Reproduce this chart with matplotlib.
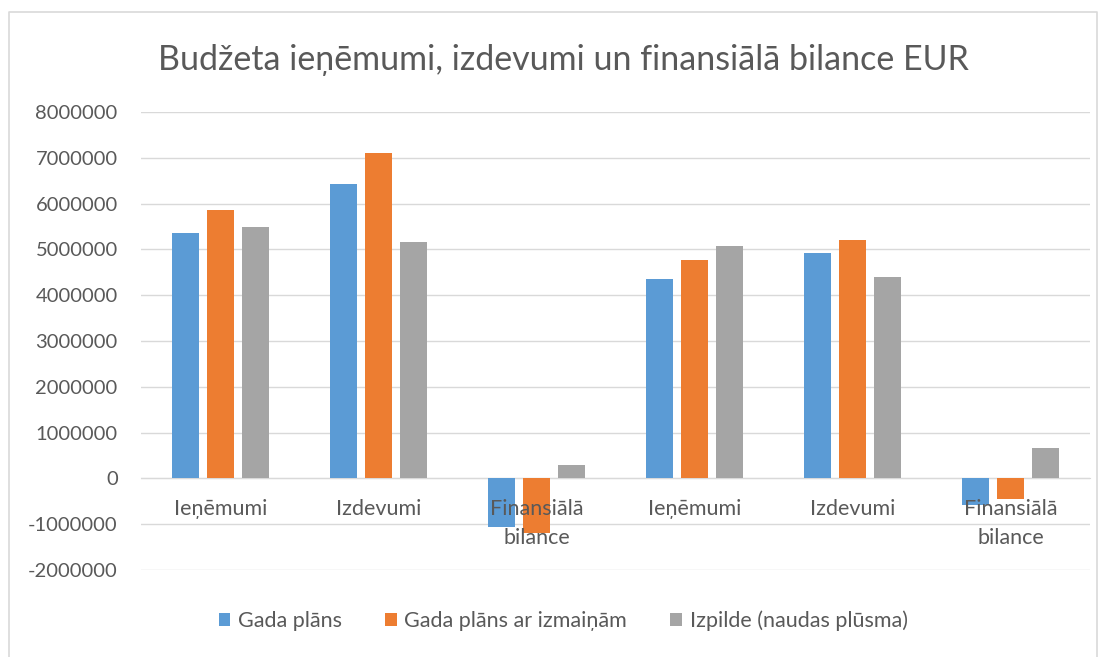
import numpy as np
import matplotlib
matplotlib.use('Agg')
import matplotlib.pyplot as plt
from matplotlib.lines import Line2D

categories = ["Ieņēmumi", "Izdevumi", "Finansiālā\nbilance",
              "Ieņēmumi", "Izdevumi", "Finansiālā\nbilance"]
series_names = ["Gada plāns", "Gada plāns ar izmaiņām", "Izpilde (naudas plūsma)"]
gada_plans = [5360000, 6430000, -1070000, 4350000, 4930000, -570000]
gada_plans_izm = [5870000, 7100000, -1200000, 4760000, 5200000, -460000]
izpilde = [5480000, 5170000, 300000, 5070000, 4390000, 660000]

colors = ["#5B9BD5", "#ED7D31", "#A5A5A5"]
text_color = "#595959"
grid_color = "#D9D9D9"

plt.rcParams['font.family'] = ['Lato', 'DejaVu Sans']

fig = plt.figure(figsize=(11.04, 6.57), dpi=100)
ax = fig.add_axes([0.128, 0.1324, 0.859, 0.6971])

x = np.arange(len(categories))
width = 0.17
step = 0.22
for i, vals in enumerate([gada_plans, gada_plans_izm, izpilde]):
    ax.bar(x + (i - 1) * step, vals, width, color=colors[i], label=series_names[i], zorder=3)

ax.set_xlim(-0.5, len(categories) - 0.5)
ax.set_ylim(-2000000, 8000000)
ax.set_yticks(np.arange(-2000000, 8000001, 1000000))
ax.yaxis.set_major_formatter(matplotlib.ticker.FuncFormatter(lambda v, p: "%d" % v))
ax.grid(axis='y', color=grid_color, linewidth=1, zorder=0)

for s in ['left', 'right', 'top']:
    ax.spines[s].set_visible(False)
ax.spines['bottom'].set_position(('data', 0))
ax.spines['bottom'].set_color(grid_color)
ax.spines['bottom'].set_zorder(2)

# category labels sit on the zero line, drawn over the bars
ax.set_xticks(x)
ax.set_xticklabels(categories, linespacing=1.55)
ax.tick_params(axis='x', length=0, pad=15, labelsize=15.5, colors=text_color)
ax.xaxis.set_zorder(5)
ax.tick_params(axis='y', length=0, pad=17, labelsize=14.5, colors=text_color)

fig.text(0.51, 1 - 60 / 657, "Budžeta ieņēmumi, izdevumi un finansiālā bilance EUR",
         ha='center', va='center', fontsize=24.5, color=text_color)

leg = fig.legend(loc='center', bbox_to_anchor=(0.51, 1 - 621 / 657), ncol=3, frameon=False,
                 fontsize=15.5, handlelength=0.55, handleheight=0.55, handletextpad=0.35,
                 columnspacing=2.0, labelcolor=text_color)

# outer chart border
fx0, fx1, fy1 = 9 / 1104, 1097 / 1104, 1 - 12 / 657
fig.add_artist(Line2D([fx0, fx0, fx1, fx1], [0, fy1, fy1, 0], transform=fig.transFigure,
                      color=grid_color, linewidth=1.2))

plt.savefig("out.png", dpi=100)
